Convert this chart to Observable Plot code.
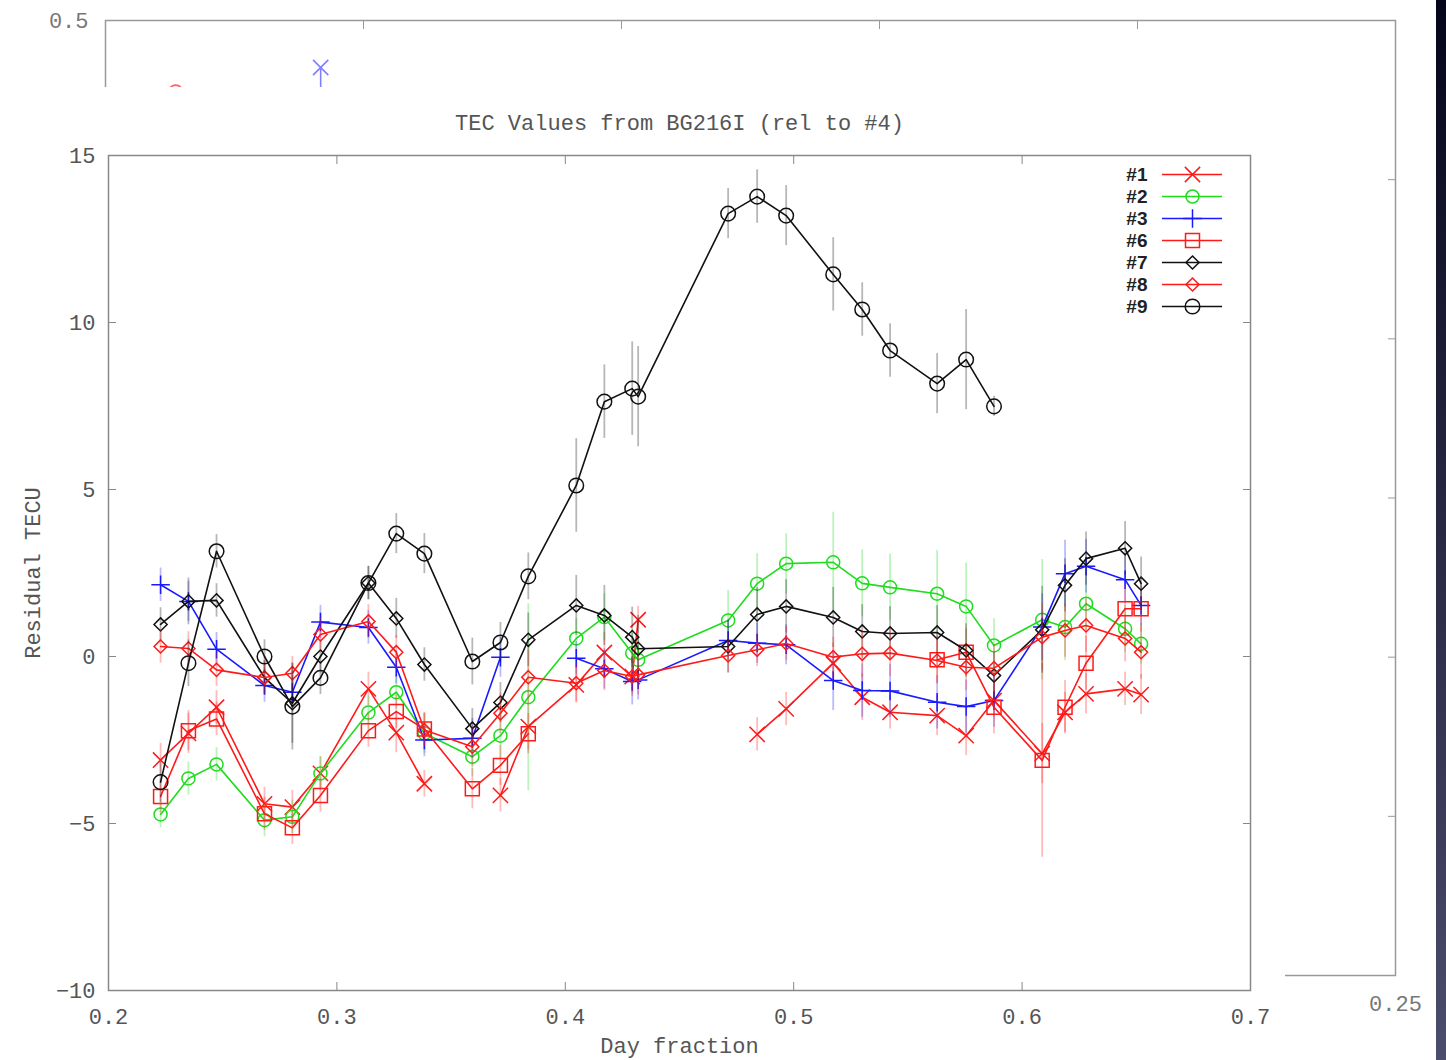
<!DOCTYPE html>
<html><head><meta charset="utf-8">
<script src="https://cdn.jsdelivr.net/npm/d3@7"></script>
<script src="https://cdn.jsdelivr.net/npm/@observablehq/plot@0.6"></script>
<style>
html,body{margin:0;padding:0;background:#fff;}
#page{position:relative;width:1446px;height:1060px;overflow:hidden;background:#fff;}
#page > *{position:absolute;}
</style></head><body><div id="page"></div>
<script>
// ---- main chart data ----
const dayFraction = [0.2228,0.2350,0.2473,0.2683,0.2805,0.2928,0.3138,0.3260,0.3383,0.3593,0.3716,0.3838,0.4048,0.4171,0.4293,0.4319,0.4713,0.4840,0.4967,0.5173,0.5300,0.5422,0.5628,0.5755,0.5877,0.6088,0.6188,0.6280,0.6451,0.6521];
const series1 = [-3.1,-2.3,-1.52,-4.41,-4.51,-3.5,-0.97,-2.28,-3.81,null,-4.16,-2.1,-0.85,0.12,-0.6,1.1,null,-2.33,-1.57,-0.2,-1.22,-1.67,-1.77,-2.37,-1.32,-2.91,-1.67,-1.12,-0.97,-1.14];
const series2 = [-4.73,-3.65,-3.23,-4.9,-4.8,-3.5,-1.68,-1.07,-2.3,-3.0,-2.37,-1.22,0.54,1.18,0.1,-0.1,1.08,2.18,2.78,2.82,2.19,2.07,1.88,1.5,0.33,1.1,0.88,1.58,0.83,0.38];
const series3 = [2.15,1.65,0.22,-0.87,-1.07,1.03,0.87,-0.32,-2.5,-2.45,-0.02,null,-0.05,-0.37,-0.75,-0.7,0.48,0.4,0.35,-0.72,-1.02,-1.03,-1.37,-1.5,-1.32,0.88,2.48,2.7,2.3,1.53];
const series6 = [-4.19,-2.22,-1.87,-4.71,-5.13,-4.16,-2.22,-1.65,-2.17,-3.96,-3.26,-2.31,null,null,null,null,null,null,null,null,null,null,-0.1,0.13,-1.52,-3.11,-1.52,-0.2,1.43,1.43];
const series7 = [0.96,1.65,1.68,-0.63,-1.4,0.0,2.2,1.14,-0.24,-2.16,-1.38,0.5,1.53,1.23,0.58,0.23,0.3,1.26,1.5,1.17,0.75,0.69,0.72,0.18,-0.57,0.8,2.13,2.93,3.24,2.18];
const series8 = [0.3,0.24,-0.4,-0.63,-0.5,0.66,1.05,0.13,-2.2,-2.7,-1.7,-0.62,-0.8,-0.42,-0.6,-0.55,0.03,0.2,0.39,-0.02,0.08,0.1,-0.12,-0.32,-0.35,0.58,0.78,0.93,0.54,0.13];
const series9 = [-3.76,-0.2,3.15,0.0,-1.5,-0.64,2.2,3.68,3.08,-0.15,0.42,2.4,5.12,7.63,8.02,7.78,13.26,13.77,13.2,11.44,10.39,9.16,8.17,8.89,7.49,null,null,null,null,null];

const err1 = [0.5,0.6,0.5,0.5,0.5,0.5,0.5,0.6,0.4,null,0.5,0.7,0.5,0.6,0.5,0.4,null,0.5,0.5,0.6,0.7,0.5,0.6,0.6,0.5,0.9,0.6,0.6,0.5,0.6];
const err2 = [0.4,0.5,0.5,0.5,0.5,0.5,0.5,0.5,0.6,0.6,0.7,2.8,0.6,0.7,0.6,0.6,0.9,0.9,0.9,1.5,1.0,1.0,1.3,1.3,0.8,1.8,1.0,0.8,0.7,0.6];
const err3 = [0.5,0.6,0.5,0.5,0.5,0.5,0.5,0.5,0.5,0.6,0.6,null,0.5,0.6,0.7,0.6,0.6,0.6,0.6,0.9,0.8,0.8,0.8,0.8,0.8,1.0,1.0,0.8,0.7,0.6];
const err6 = [0.5,0.6,0.5,0.5,0.5,0.5,0.5,0.5,0.5,0.6,0.6,0.6,null,null,null,null,null,null,null,null,null,null,0.7,0.7,0.8,2.9,0.8,0.8,0.7,0.7];
const err7 = [0.5,0.7,0.5,0.5,1.2,0.5,0.5,0.6,0.5,0.6,0.6,0.8,0.9,0.9,0.9,1.0,0.8,0.8,0.8,0.9,0.8,0.8,0.8,0.8,0.7,1.3,0.8,0.8,0.8,0.8];
const err8 = [0.5,0.5,0.5,0.5,0.5,0.5,0.5,0.5,0.5,0.6,0.6,0.8,0.6,0.6,0.6,0.6,0.5,0.5,0.5,0.6,0.7,0.7,0.7,0.7,0.7,1.0,0.8,0.8,0.7,0.8];
const err9 = [0.6,0.7,0.5,0.5,1.3,0.5,0.5,0.6,0.6,0.7,0.6,0.7,1.4,1.1,1.4,1.5,0.75,0.8,0.9,1.1,0.8,0.8,0.9,1.5,0.3,null,null,null,null,null];

const seriesNames = ["#1","#2","#3","#6","#7","#8","#9"];
const seriesColors = ["#ff1a1a","#1fdc1f","#1a1aff","#ff1a1a","#111111","#ff1a1a","#111111"];
const seriesSymbols = ["times","circle","plus","square2","diamond2","diamond2","circle"];
const seriesR = [7,6.5,6,8.9,5.9,5.9,7.3];

const xTicks = [0.2,0.3,0.4,0.5,0.6,0.7];
const yTicks = [-10,-5,0,5,10,15];
const titleText = "TEC Values from BG216I (rel to #4)";
const xLabel = "Day fraction";
const yLabel = "Residual TECU";

// ---- partially hidden background chart ----
const bgXTicks = [0,0.05,0.1,0.15,0.2,0.25];
const bgYTicks = [-0.1,0,0.1,0.2,0.3,0.4,0.5];
const bgXLabelTicks = [0.25];
const bgYLabelTicks = [0.5];
const bgX = [0.0136,0.0417];
const bgY = [0.455,0.4705];
const bgLo = [0.455,0.440];
const bgHi = [0.455,0.4705];
const bgColors = ["#ff6060","#8080ff"];
const bgSymbols = ["circle","times"];

const FONT = "'Liberation Mono', 'DejaVu Sans Mono', monospace";
const page = document.getElementById("page");

// background plot
const bgPlot = Plot.plot({
  width:1446, height:1060, marginTop:20, marginLeft:105, marginRight:51, marginBottom:85,
  x:{domain:[0,0.25]}, y:{domain:[-0.1,0.5]},
  style:{background:"white", fontFamily:FONT, fontSize:"22px", color:"#777"},
  marks:[
    Plot.frame({stroke:"#999", strokeWidth:1.5}),
    Plot.axisX(bgXTicks, {anchor:"top", tickSize:8, dy:8, tickFormat:()=>"", label:null, stroke:"#999"}),
    Plot.axisY(bgYTicks, {anchor:"right", tickSize:8, dx:-8, tickFormat:()=>"", label:null, stroke:"#999"}),
    Plot.axisY(bgYLabelTicks, {anchor:"left", tickSize:0, tickPadding:17, tickFormat:d3.format(".1f"), label:null, fontSize:22}),
    Plot.axisX(bgXLabelTicks, {anchor:"bottom", tickSize:0, tickPadding:20, tickFormat:d3.format(".2f"), label:null, fontSize:22}),
    Plot.ruleX(bgX.map((x,i)=>({x, lo:bgLo[i], hi:bgHi[i], c:bgColors[i]})), {x:"x", y1:"lo", y2:"hi", stroke:d=>d.c, strokeWidth:1.6}),
    ...bgX.map((x,i)=>Plot.dot([{x, y:bgY[i]}], {x:"x", y:"y", symbol:bgSymbols[i], r:7, stroke:bgColors[i], fill:"none", strokeWidth:1.6}))
  ]
});
bgPlot.style.left="0px"; bgPlot.style.top="0px";
page.appendChild(bgPlot);

// main plot
const seriesValues = [series1,series2,series3,series6,series7,series8,series9];
const seriesErrors = [err1,err2,err3,err6,err7,err8,err9];
const rows = seriesNames.map((name,k)=>dayFraction.map((x,i)=>({name, x, y:seriesValues[k][i], e:seriesErrors[k][i]})));

const dataMarks = [];
rows.forEach((data,k)=>{
  const c = seriesColors[k];
  dataMarks.push(Plot.ruleX(data, {x:"x",
    y1:d=>(d.y==null||d.e==null)?NaN:d.y-d.e,
    y2:d=>(d.y==null||d.e==null)?NaN:d.y+d.e,
    stroke:c, strokeOpacity:0.3, strokeWidth:1.8}));
  dataMarks.push(Plot.line(data, {x:"x", y:"y", stroke:c, strokeWidth:1.6}));
  dataMarks.push(Plot.dot(data, {x:"x", y:"y", symbol:seriesSymbols[k], r:seriesR[k], stroke:c, fill:"none", strokeWidth:1.5}));
});

const mainPlot = Plot.plot({
  width:1285, height:973, marginTop:68, marginLeft:108, marginRight:35, marginBottom:70,
  x:{domain:[0.2,0.7]}, y:{domain:[-10,15]},
  style:{background:"white", fontFamily:FONT, fontSize:"22px", color:"#555", overflow:"visible"},
  marks:[
    Plot.axisX(xTicks, {anchor:"bottom", tickSize:8, dy:-8, tickFormat:()=>"", label:null, stroke:"#888"}),
    Plot.axisX(xTicks, {anchor:"top", tickSize:8, dy:8, tickFormat:()=>"", label:null, stroke:"#888"}),
    Plot.axisY(yTicks, {anchor:"left", tickSize:8, dx:8, tickFormat:()=>"", label:null, stroke:"#888"}),
    Plot.axisY(yTicks, {anchor:"right", tickSize:8, dx:-8, tickFormat:()=>"", label:null, stroke:"#888"}),
    Plot.axisX(xTicks, {anchor:"bottom", tickSize:0, tickPadding:18, tickFormat:d3.format(".1f"), label:null, fontSize:22}),
    Plot.axisY(yTicks, {anchor:"left", tickSize:0, tickPadding:13, label:null, fontSize:22}),
    Plot.frame({stroke:"#888", strokeWidth:1.5}),
    ...dataMarks,
    Plot.text([titleText], {frameAnchor:"top", dy:-33, text:d=>d, fontSize:22, lineAnchor:"middle"}),
    Plot.text([xLabel], {frameAnchor:"bottom", dy:55, text:d=>d, fontSize:22, lineAnchor:"middle"}),
    Plot.text([yLabel], {frameAnchor:"left", dx:-76, rotate:-90, text:d=>d, fontSize:22, lineAnchor:"middle", textAnchor:"middle"})
  ]
});
mainPlot.style.left="0px"; mainPlot.style.top="87px";
page.appendChild(mainPlot);

// legend
const legend = Plot.plot({
  width:150, height:160, marginLeft:72, marginRight:18, marginTop:12.7, marginBottom:13.3,
  x:{domain:[0,1], axis:null}, y:{type:"point", domain:seriesNames, padding:0, axis:null},
  style:{background:"transparent", overflow:"visible"},
  marks:[
    ...seriesNames.map((n,k)=>Plot.ruleY([n], {y:d=>d, x1:0, x2:1, stroke:seriesColors[k], strokeWidth:1.6})),
    ...seriesNames.map((n,k)=>Plot.dot([n], {y:d=>d, x:0.5, symbol:seriesSymbols[k], r:seriesR[k], stroke:seriesColors[k], fill:"none", strokeWidth:1.5})),
    Plot.text(seriesNames, {y:d=>d, x:0, dx:-15, text:d=>d, textAnchor:"end", fontSize:19, fontFamily:"'Liberation Sans', Arial, sans-serif", fontWeight:"bold", fill:"#222"})
  ]
});
legend.style.left="1090px"; legend.style.top="160px";
page.appendChild(legend);

// dark strip at the right edge
const strip = document.createElement("div");
strip.style.cssText = "left:1436px;top:0;width:10px;height:1060px;background:linear-gradient(#05051a,#4c4c6c);";
page.appendChild(strip);
</script></body></html>
